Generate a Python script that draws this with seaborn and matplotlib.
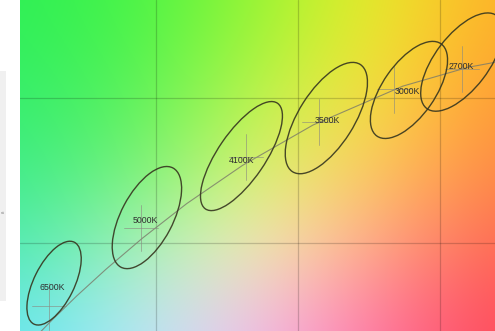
import numpy as np
import pandas as pd
import seaborn as sns
import matplotlib
matplotlib.use("Agg")
import matplotlib.pyplot as plt
from matplotlib.patches import Ellipse, Rectangle

# Planckian locus (CIE 1931 x, y)
locus_cct = [8000, 6500, 6000, 5500, 5000, 4500, 4000, 3500, 3000, 2700, 2500]
locus_x = [0.2950, 0.3135, 0.3221, 0.3324, 0.3451, 0.3608, 0.3805, 0.4053, 0.4369, 0.4599, 0.4770]
locus_y = [0.3050, 0.3236, 0.3318, 0.3410, 0.3516, 0.3636, 0.3768, 0.3907, 0.4041, 0.4106, 0.4137]

# Tolerance ellipses: label, centre, semi-axes, tilt (deg)
ell_label = ["6500K", "5000K", "4100K", "3500K", "3000K", "2700K"]
ell_cx = [0.3141, 0.3468, 0.3801, 0.4100, 0.4391, 0.4577]
ell_cy = [0.3362, 0.3588, 0.3800, 0.3931, 0.4028, 0.4124]
ell_a = [0.0158, 0.0194, 0.0222, 0.0220, 0.0195, 0.0202]
ell_b = [0.0071, 0.0091, 0.0083, 0.0097, 0.0092, 0.0094]
ell_ang = [63, 61.6, 55, 57, 54.4, 52]

# label positions
lab_x = [0.3134, 0.3461, 0.3803, 0.4102, 0.4387, 0.4577]
lab_y = [0.3348, 0.3579, 0.3786, 0.3924, 0.4021, 0.4110]

# nominal chromaticity of each bin (crosshair marks)
nom_x = [0.3123, 0.3447, 0.3818, 0.4073, 0.4338, 0.4578]
nom_y = [0.3282, 0.3553, 0.3797, 0.3917, 0.4030, 0.4101]

XMIN, XMAX = 0.3021, 0.4694
YMIN, YMAX = 0.3197, 0.4338

# background tint anchors (rows top->bottom, cols left->right)
bg = np.array([
    [(45, 240, 85), (70, 245, 70), (150, 245, 50), (238, 240, 40), (255, 175, 40)],
    [(50, 238, 105), (85, 243, 85), (185, 246, 70), (252, 228, 58), (255, 155, 50)],
    [(58, 236, 135), (115, 242, 115), (225, 246, 108), (255, 205, 95), (255, 135, 65)],
    [(78, 234, 180), (170, 242, 185), (250, 240, 190), (255, 165, 140), (255, 100, 80)],
    [(100, 230, 240), (185, 235, 250), (245, 190, 238), (255, 115, 165), (255, 70, 85)],
], dtype=float) / 255.0

sns.set_theme(style="white")
plt.rcParams["font.family"] = ["Liberation Sans", "DejaVu Sans"]

fig = plt.figure(figsize=(4.95, 3.31), dpi=100)
fig.patch.set_facecolor("white")
ax = fig.add_axes([20 / 495, 0, 475 / 495, 1])

nr, nc = bg.shape[:2]
hx = (XMAX - XMIN) / (nc - 1) / 2
hy = (YMAX - YMIN) / (nr - 1) / 2
ax.imshow(bg, extent=[XMIN - hx, XMAX + hx, YMIN - hy, YMAX + hy],
          origin="upper", interpolation="bicubic", aspect="auto", zorder=0)

for gx in [0.35, 0.40, 0.45]:
    ax.axvline(gx, color="black", alpha=0.18, lw=0.9, zorder=1)
for gy in [0.35, 0.40]:
    ax.axhline(gy, color="black", alpha=0.18, lw=0.9, zorder=1)

locus = pd.DataFrame({"x": locus_x, "y": locus_y, "cct": locus_cct})
sns.lineplot(data=locus, x="x", y="y", sort=False, color="#7a7a6a", lw=0.8,
             alpha=0.8, ax=ax, zorder=2)

for nx, ny in zip(nom_x, nom_y):
    ax.plot([nx, nx], [ny - 0.008, ny + 0.008], color="#8a8a80", lw=0.6, alpha=0.7, zorder=2)
    ax.plot([nx - 0.006, nx + 0.006], [ny, ny], color="#8a8a80", lw=0.6, alpha=0.7, zorder=2)

for cx, cy, a, b, ang in zip(ell_cx, ell_cy, ell_a, ell_b, ell_ang):
    ax.add_patch(Ellipse((cx, cy), 2 * a, 2 * b, angle=ang, fill=False,
                         ec="#36361f", lw=1.0, alpha=0.9, zorder=3))

for t, tx, ty in zip(ell_label, lab_x, lab_y):
    ax.text(tx, ty, t, fontsize=6.3, color="#2e2e2e", ha="center", va="center", zorder=4)

ax.set_xlim(XMIN, XMAX)
ax.set_ylim(YMIN, YMAX)
ax.set_xlabel("")
ax.set_ylabel("")
ax.set_xticks([])
ax.set_yticks([])
for s in ax.spines.values():
    s.set_visible(False)

# side panel edge
fig.add_artist(Rectangle((0, 30 / 331), 6 / 495, 230 / 331, transform=fig.transFigure,
                         facecolor="#f0f0f0", edgecolor="none"))
fig.text(1 / 495, 1 - 213 / 331, "\u00ab", fontsize=4, color="#666666", va="center")

fig.savefig("out.png", dpi=100)
